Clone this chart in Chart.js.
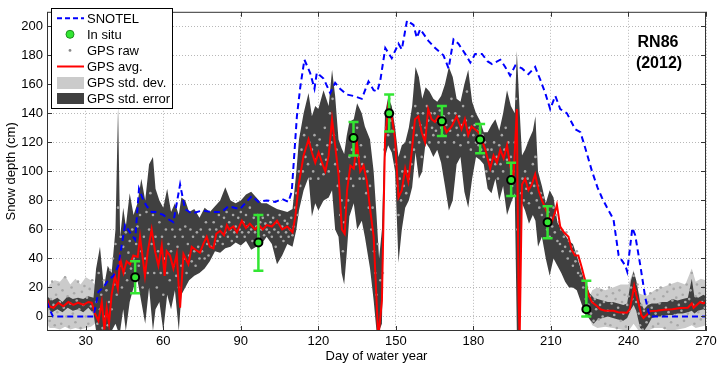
<!DOCTYPE html>
<html>
<head>
<meta charset="utf-8">
<script src="https://cdn.jsdelivr.net/npm/chart.js@4.4.1/dist/chart.umd.min.js"></script>
<style>
  html, body { margin: 0; padding: 0; background: #fff; }
</style>
</head>
<body>
<canvas id="chart" width="720" height="368"></canvas>
<script>
const FONT = "'Liberation Sans', Arial, Helvetica, sans-serif";

// axis ticks
const xTicks = [30, 60, 90, 120, 150, 180, 210, 240, 270];
const yTicks = [0, 20, 40, 60, 80, 100, 120, 140, 160, 180, 200];

// SNOTEL daily snow depth (cm)
const snotelDays = [15, 16, 17.3, 33, 34.9, 36.8, 38.7, 40.7, 42.6, 45.2, 47.1, 49.1, 50.6, 52.3, 53.6, 55.5, 57, 60, 62, 63.9, 66.5, 68.4, 71, 74.9, 78.8, 82.6, 85.2, 89.7, 94.2, 96.8, 100, 103.3, 105.9, 108.4, 109.7, 111.7, 113, 114.6, 116.8, 118.5, 119.4, 122, 124.6, 126.5, 128.4, 131, 133.6, 136.8, 139.4, 141.4, 142.8, 144, 145.9, 148.4, 151, 152.3, 154.3, 156.8, 158.1, 159.4, 162.6, 165.2, 168.4, 170.4, 172.3, 174.2, 176.8, 178.8, 180.7, 183.3, 185.4, 187.2, 190.4, 192.3, 194.2, 196.2, 198.8, 201.3, 203.9, 205.9, 207.8, 209.7, 211.7, 213.6, 216.2, 219.4, 221.4, 223.3, 225.9, 228, 229.7, 232.3, 234.2, 236.2, 238.8, 239.5, 241.5, 242.6, 244.6, 246.5, 247.8, 248.5, 270];
const snotelDepth = [10, 5, 0, 0, 17, 20, 25, 28, 35, 63, 58, 53, 88, 80, 76, 72, 72, 70, 67, 65, 91, 74, 71, 73, 72, 72, 76, 74, 83, 79, 80, 79, 81, 79, 86, 138, 158, 177, 168, 157, 168, 164, 154, 161, 157, 153, 152, 150, 162, 156, 155, 163, 185, 178, 188, 184, 204, 201, 192, 198, 190, 185, 180, 171, 191, 188, 181, 175, 181, 181, 176, 174, 177, 172, 166, 173, 171, 167, 172, 163, 154, 143, 152, 143, 140, 129, 127, 116, 100, 89, 82, 73, 67, 42, 35, 31, 61, 56, 35, 13, 3, 0, 0];

// in situ measurements with error range
const insituDays = [49.1, 96.8, 133.6, 147.4, 167.8, 182.6, 194.6, 208.7, 223.7];
const insituDepth = [27, 51, 123, 140, 134.5, 122, 94, 65, 5];
const insituLow = [16, 31.5, 111, 127.5, 124.4, 112.5, 83, 54, 0];
const insituHigh = [38, 70, 134, 153, 145, 132.7, 106, 76, 24.6];

// GPS daily average
const avgDays = [15, 16, 17.5, 19.4, 21.3, 23.3, 25.2, 27.1, 29.1, 31, 32.3, 33.6, 34.9, 36.2, 37.2, 38.1, 39, 40, 41.3, 42.4, 43.3, 44.6, 45.8, 47.1, 48.4, 50.1, 51, 52.9, 54, 55.5, 56.8, 58.1, 59.4, 60.5, 61.3, 62.6, 63.9, 65.2, 66.5, 67.8, 69.7, 71, 72.5, 74.2, 75.5, 76.8, 78, 79.4, 80.5, 82, 83.5, 84.6, 85.5, 87.1, 88.5, 90.4, 92, 93.5, 95.5, 97, 98.5, 100, 102, 104, 106, 108, 110, 111.1, 112.4, 114.3, 116.2, 117.5, 118.8, 120.1, 121.4, 122.7, 124, 125.3, 126.5, 127.8, 129.1, 130.2, 131.1, 132.4, 133.7, 134.9, 136.2, 137.5, 138.8, 140.1, 141.4, 142.3, 143.2, 144.6, 145.8, 147.1, 148.4, 149.7, 151, 152.3, 153.6, 154.8, 156.1, 157.4, 158.7, 160, 161.3, 162.5, 163.8, 165.1, 166.4, 167.7, 169.6, 171.6, 173.5, 175.4, 176.7, 178, 179.3, 180.6, 181.9, 183.2, 184.6, 186.5, 187.8, 189.1, 190.4, 191.7, 193, 194.2, 195.5, 196.8, 197.5, 197.9, 198.8, 200, 201.3, 202.6, 203.9, 205.2, 206.5, 207.8, 209, 210.3, 211.6, 212.3, 213.6, 215, 216.8, 218, 219.3, 220.6, 221.9, 223.2, 224.5, 225.8, 227.9, 229.1, 231, 234.2, 236, 239.4, 240.5, 241.3, 242.2, 243, 243.9, 245, 245.8, 247, 248.4, 251, 253.6, 257, 260, 263, 264.5, 265.2, 267.7, 269, 270];
const avgDepth = [12, 7, 6, 9.5, 7, 10, 8, 9.5, 8, 10, 9.5, 2, -3, 10, -9, 6, -5, 15, 28, 19, 40, 30, 38, 36, 42, 41, 55, 28, 45, 60, 45, 35, 49, 28, 45, 42, 33, 43, 6, 43, 36, 48, 46, 44, 50, 55, 48, 47, 57, 59, 56, 63, 60, 62, 58, 66, 61, 64, 60, 63, 60, 63, 62, 66, 60, 62, 58, 69, 91, 111, 122, 113, 106, 113, 106, 100, 111, 136, 118, 98, 60, 57, 87, 104, 102, 120, 100, 104, 93, 73, 55, 20, -15, 11, 122, 145, 138, 122, 82, 87, 102, 93, 113, 136, 138, 127, 120, 143, 136, 134, 138, 136, 127, 131, 138, 129, 136, 125, 131, 129, 127, 122, 115, 102, 111, 106, 115, 109, 118, 104, 95, 143, 11, -15, 91, 95, 87, 91, 98, 87, 80, 75, 69, 65, 72, 77, 62, 58, 55, 46, 42, 42, 34, 25, 15, 10, 7, 5, 4, 4, 3, 2.6, 5, 12, 21, 15, 9, 1, -1, 1, 3.7, 4, 4.7, 5, 5.8, 6, 9, 6, 10, 9, 10];

// GPS std. error band
const errDays = [15, 17, 19, 21, 23, 25, 27, 29, 31, 33, 34, 35.5, 37, 38.5, 40, 41.5, 42.5, 43.3, 44.5, 45.5, 47, 48.5, 50, 51.5, 53, 54.5, 56, 57, 58.5, 60, 61.5, 63, 64.5, 66, 67, 68.5, 70, 72, 74, 76, 78, 80, 82, 84, 86, 88, 90, 92, 94, 96, 98, 100, 102, 104, 106, 108, 110, 111.5, 112.5, 114.3, 116.2, 117.5, 118.8, 120, 122, 124, 125.3, 126.5, 127.8, 129, 130, 131, 132, 133.7, 135, 136.8, 138, 140, 141.4, 142.5, 143.5, 144.6, 145.8, 147, 148.4, 149.7, 151, 152.3, 153.6, 155, 156.3, 157.6, 158.9, 160.2, 161.5, 163, 164.5, 166, 167.5, 169, 170.5, 172, 173.5, 175, 176.5, 178, 179.5, 181, 182.5, 184, 185.5, 187, 188.5, 190, 191.5, 193, 194.5, 196, 196.8, 197.8, 198.8, 200, 201.5, 203, 204, 205, 206.5, 208, 209.5, 211, 212.5, 214, 215.5, 217, 218.5, 220, 222, 223.5, 225, 226.5, 228, 230, 232, 234, 236, 238, 239.5, 241, 242, 243, 244.5, 246, 247.5, 249, 251, 253, 255, 257, 259, 261, 263, 264.5, 265.5, 267, 269, 270];
const errUpper = [14, 11, 13, 10, 14, 12, 13, 12, 14, 13, 33, 48, 20, 35, 30, 60, 145, 55, 75, 62, 85, 70, 78, 95, 80, 105, 110, 88, 80, 75, 88, 72, 78, 70, 82, 80, 72, 74, 68, 75, 72, 76, 80, 89, 80, 78, 80, 84, 86, 82, 78, 78, 76, 74, 73, 72, 74, 100, 122, 140, 154, 138, 145, 143, 156, 145, 170, 152, 122, 116, 112, 125, 134, 136, 147, 140, 131, 122, 100, 70, 40, 60, 140, 151, 145, 130, 110, 118, 120, 130, 145, 172, 165, 150, 158, 155, 150, 148, 152, 160, 172, 165, 150, 148, 160, 170, 148, 140, 135, 127, 127, 132, 136, 128, 140, 156, 145, 140, 183, 145, 111, 115, 122, 128, 138, 100, 90, 78, 87, 82, 65, 60, 56, 52, 50, 42, 30, 22, 16, 13, 12, 11, 10, 10, 9, 8, 9, 25, 31, 25, 10, 5, 8, 9, 9, 10, 10, 12, 11, 12, 13, 26, 14, 13, 15, 14];
const errLower = [6, 3, 5, 3, 6, 4, 5, 3, 6, 2, -10, -10, -10, -10, -10, -5, -10, -10, 5, -10, 10, 20, 25, 10, -5, 20, -10, 5, 10, -10, 15, 5, 18, -10, 15, 20, 25, 28, 30, 33, 38, 45, 44, 47, 48, 51, 49, 52, 46, 48, 50, 55, 50, 36, 42, 50, 48, 60, 73, 87, 96, 69, 78, 73, 80, 82, 87, 60, 55, 30, 22, 44, 69, 78, 60, 66, 55, 33, 11, -10, -10, -5, 110, 118, 113, 100, 37, 60, 75, 80, 89, 113, 95, 100, 120, 116, 110, 115, 106, 90, 73, 80, 105, 110, 86, 75, 95, 110, 108, 105, 88, 85, 95, 80, 90, 70, 78, 85, -10, -10, 78, 73, 64, 70, 66, 48, 55, 40, 28, 40, 35, 30, 24, 20, 20, 18, 8, 2, -2, -5, -2, -1, 0, -1, -2, -3, -1, 5, 8, 4, -8, -10, -6, -1, 0, 0, 1, 1, 2, 2, 3, 4, 2, 4, 5, 4];

// GPS std. dev. band (visible before and after snow cover)
const devEarlyDays = [15, 16, 18, 20, 22, 24, 26, 28, 30, 32, 33.5, 34.5];
const devEarlyUpper = [18, 22, 25, 24, 28, 22, 26, 22, 27, 25, 22, 12];
const devEarlyLower = [-5, -8, -8, -9, -7, -9, -8, -9, -8, -7, -5, -2];
const devLateDays = [225, 226, 228, 231, 234, 237, 240, 242, 244, 247, 250, 253, 256, 259, 262, 264.5, 266, 268, 270];
const devLateUpper = [14, 18, 20, 18, 20, 22, 22, 32, 16, 14, 18, 20, 22, 24, 22, 33, 24, 26, 25];
const devLateLower = [-2, -6, -8, -7, -8, -9, -10, -5, -10, -10, -8, -8, -10, -9, -8, -6, -8, -7, -6];

// GPS raw retrievals [day, depth]
const gpsRaw = [
[15,20],[15.5,5],[16,-3],[16.5,12],[17,24],[17.5,8],[18,-6],[18.5,15],[19,3],[19.5,22],
[20,10],[20.5,-5],[21,18],[21.5,6],[22,27],[22.5,0],[23,14],[23.5,-7],[24,9],[24.5,20],
[25,2],[25.5,16],[26,-4],[26.5,11],[27,24],[27.5,5],[28,-8],[28.5,17],[29,8],[29.5,21],
[30,0],[30.5,13],[31,-5],[31.5,19],[32,7],[32.5,25],[33,3],
[34,10],[34.5,-5],[35,30],[35.5,5],[36,15],[36.5,-8],[37,25],[37.5,0],[38,18],[38.5,-6],[39,10],[39.5,32],
[40,5],[40.5,40],[41,22],[41.5,50],[42,15],[42.5,75],[43,35],[43.5,55],[44,20],[44.5,48],[45,30],[45.5,58],[46,25],[46.5,44],[47,52],[47.5,33],[48,60],[48.5,40],[49,30],[49.5,50],
[50,62],[50.5,35],[51,70],[51.5,45],[52,20],[52.5,55],[53,40],[53.5,72],[54,30],[54.5,60],[55,85],[55.5,50],[56,70],[56.5,30],[57,55],[57.5,20],[58,45],[58.5,65],[59,30],[59.5,55],
[60,15],[60.5,40],[61,60],[61.5,30],[62,50],[62.5,25],[63,45],[63.5,60],[64,35],[64.5,55],[65,28],[65.5,48],[66,20],[66.5,60],[67,35],[67.5,55],[68,40],[68.5,62],[69,30],[69.5,50],
[70,42],[70.5,60],[71,38],[71.5,55],[72,45],[72.5,35],[73,58],[73.5,48],[74,40],[74.5,60],[75,45],[75.5,55],[76,40],[76.5,65],[77,50],[77.5,42],[78,60],[78.5,48],[79,55],[79.5,65],
[80,50],[80.5,60],[81,52],[81.5,70],[82,55],[82.5,62],[83,50],[83.5,68],[84,58],[84.5,72],[85,55],[85.5,65],[86,60],[86.5,52],[87,70],[87.5,58],[88,62],[88.5,55],[89,68],[89.5,60],
[90,72],[90.5,58],[91,65],[91.5,55],[92,70],[92.5,62],[93,58],[93.5,75],[94,60],[94.5,52],[95,68],[95.5,58],[96,62],[96.5,70],[97,55],[97.5,65],[98,60],[98.5,68],[99,56],[99.5,64],
[100,60],[100.5,70],[101,58],[101.5,65],[102,55],[102.5,68],[103,60],[103.5,48],[104,65],[104.5,58],[105,70],[105.5,55],[106,62],[106.5,52],[107,66],[107.5,58],[108,64],[108.5,55],[109,60],[109.5,68],
[110,56],[110.5,62],[111,75],[111.5,85],[112,70],[112.5,100],[113,90],[113.5,115],[114,100],[114.5,125],[115,110],[115.5,130],[116,105],[116.5,120],[117,95],[117.5,115],[118,100],[118.5,125],[119,108],[119.5,118],
[120,95],[120.5,122],[121,105],[121.5,112],[122,98],[122.5,130],[123,108],[123.5,118],[124,100],[124.5,140],[125,120],[125.5,150],[126,125],[126.5,105],[127,115],[127.5,90],[128,100],[128.5,70],[129,80],[129.5,45],
[130,65],[130.5,75],[131,95],[131.5,80],[132,110],[132.5,95],[133,115],[133.5,90],[134,125],[134.5,105],[135,130],[135.5,110],[136,95],[136.5,118],[137,105],[137.5,95],[138,110],[138.5,85],[139,100],[139.5,75],
[140,90],[140.5,60],[141,75],[141.5,45],[142,30],[142.5,15],[143,50],[144,25],[145,30],[145.5,115],[146,130],[146.5,140],[147,125],[147.5,150],[148,135],[148.5,128],[149,140],[149.5,115],
[150,105],[150.5,90],[151,70],[151.5,95],[152,80],[152.5,100],[153,90],[153.5,110],[154,85],[154.5,100],[155,95],[155.5,120],[156,105],[156.5,130],[157,115],[157.5,145],[158,125],[158.5,140],[159,120],[159.5,132],
[160,110],[160.5,140],[161,125],[161.5,130],[162,145],[162.5,135],[163,120],[163.5,140],[164,130],[164.5,125],[165,140],[165.5,128],[166,135],[166.5,120],[167,142],[167.5,130],[168,125],[168.5,138],[169,120],[169.5,132],
[170,110],[170.5,140],[171,128],[171.5,150],[172,135],[172.5,120],[173,140],[173.5,130],[174,125],[174.5,138],[175,118],[175.5,132],[176,145],[176.5,125],[177,135],[177.5,155],[178,120],[178.5,130],[179,115],[179.5,138],
[180,125],[180.5,132],[181,120],[181.5,128],[182,118],[182.5,130],[183,115],[183.5,125],[184,110],[184.5,120],[185,100],[185.5,115],[186,95],[186.5,108],[187,115],[187.5,100],[188,120],[188.5,105],[189,110],[189.5,95],
[190,118],[190.5,105],[191,125],[191.5,100],[192,115],[192.5,130],[193,108],[193.5,120],[194,95],[194.5,110],[195,90],[195.5,100],[196,120],[196.5,150],[197,60],[198,20],[198.5,85],[199,95],[199.5,80],
[200,100],[200.5,88],[201,95],[201.5,78],[202,92],[202.5,85],[203,105],[203.5,90],[204,110],[204.5,80],[205,90],[205.5,75],[206,85],[206.5,70],[207,82],[207.5,65],[208,75],[208.5,60],[209,72],[209.5,55],
[210,68],[210.5,62],[211,75],[211.5,58],[212,70],[212.5,52],[213,65],[213.5,50],[214,60],[214.5,45],[215,55],[215.5,48],[216,58],[216.5,40],[217,52],[217.5,45],[218,48],[218.5,35],[219,44],[219.5,38],
[220,45],[220.5,30],[221,38],[221.5,28],[222,32],[222.5,20],[223,26],[223.5,12],[224,20],[224.5,8],[225,14],[225.5,2],[226,10],[226.5,-3],[227,12],[227.5,5],[228,15],[228.5,-2],[229,8],[229.5,18],
[230,0],[230.5,10],[231,-5],[231.5,14],[232,4],[232.5,20],[233,-6],[233.5,9],[234,16],[234.5,1],[235,12],[235.5,-8],[236,6],[236.5,18],[237,-3],[237.5,10],[238,2],[238.5,15],[239,-7],[239.5,8],
[240,14],[240.5,4],[241,20],[241.5,12],[242,28],[242.5,18],[243,10],[243.5,22],[244,2],[244.5,-6],[245,8],[245.5,-9],[246,4],[246.5,15],[247,-4],[247.5,10],[248,0],[248.5,16],[249,6],[249.5,-7],
[250,12],[250.5,2],[251,18],[251.5,-5],[252,9],[252.5,20],[253,0],[253.5,14],[254,-8],[254.5,6],[255,17],[255.5,3],[256,22],[256.5,-4],[257,11],[257.5,19],[258,1],[258.5,13],[259,-6],[259.5,8],
[260,20],[260.5,4],[261,15],[261.5,-3],[262,10],[262.5,22],[263,2],[263.5,12],[264,18],[264.5,30],[265,8],[265.5,-5],[266,14],[266.5,22],[267,3],[267.5,16],[268,-2],[268.5,10],[269,20],[269.5,6],[270,12]
];

const BLUE = '#0000ff';
const RED = '#ff0000';
const GREEN = '#33e633';
const DARK = '#404040';
const LIGHT = '#cbcbcb';
const RAW = '#a8a8a8';

const pts = (xs, ys) => xs.map((x, i) => ({ x: x, y: ys[i] }));

// vertical error bars, one segment per in situ sample
const errorBars = [];
insituDays.forEach((d, i) => {
  errorBars.push({ x: d, y: insituLow[i] }, { x: d, y: insituHigh[i] }, { x: d, y: null });
});

// frame with inward ticks, plus the station label
const framePlugin = {
  id: 'frame',
  afterDraw(chart) {
    const { ctx, chartArea: a, scales } = chart;
    ctx.save();
    ctx.strokeStyle = '#333';
    ctx.lineWidth = 1;
    ctx.strokeRect(a.left + 0.5, a.top + 0.5, a.right - a.left - 1, a.bottom - a.top - 1);
    ctx.beginPath();
    xTicks.forEach(v => {
      const px = Math.round(scales.x.getPixelForValue(v)) + 0.5;
      ctx.moveTo(px, a.bottom); ctx.lineTo(px, a.bottom - 5);
      ctx.moveTo(px, a.top); ctx.lineTo(px, a.top + 5);
    });
    yTicks.forEach(v => {
      const py = Math.round(scales.y.getPixelForValue(v)) + 0.5;
      ctx.moveTo(a.left, py); ctx.lineTo(a.left + 5, py);
      ctx.moveTo(a.right, py); ctx.lineTo(a.right - 5, py);
    });
    ctx.stroke();

    ctx.fillStyle = '#000';
    ctx.font = 'bold 16px ' + FONT;
    ctx.textAlign = 'center';
    ctx.textBaseline = 'alphabetic';
    ctx.fillText('RN86', 658, 47);
    ctx.fillText('(2012)', 659, 68);
    ctx.restore();
  }
};

// MATLAB-style boxed legend in the upper left corner
const legendPlugin = {
  id: 'boxLegend',
  afterDraw(chart) {
    const ctx = chart.ctx;
    const labels = ['SNOTEL', 'In situ', 'GPS raw', 'GPS avg.', 'GPS std. dev.', 'GPS std. error'];
    ctx.save();
    ctx.fillStyle = '#fff';
    ctx.fillRect(51.5, 8.5, 121, 100);
    ctx.strokeStyle = '#000';
    ctx.lineWidth = 1;
    ctx.strokeRect(51.5, 8.5, 121, 100);
    const base = i => 22.7 + i * 16.1;
    const mid = i => base(i) - 4.5;

    ctx.strokeStyle = BLUE; ctx.lineWidth = 2; ctx.setLineDash([5, 3]);
    ctx.beginPath(); ctx.moveTo(57, mid(0)); ctx.lineTo(84, mid(0)); ctx.stroke();
    ctx.setLineDash([]);

    ctx.fillStyle = GREEN; ctx.strokeStyle = '#1f8f1f'; ctx.lineWidth = 1;
    ctx.beginPath(); ctx.arc(70, mid(1), 4, 0, Math.PI * 2); ctx.fill(); ctx.stroke();

    ctx.fillStyle = '#888';
    ctx.beginPath(); ctx.arc(70, mid(2), 1.4, 0, Math.PI * 2); ctx.fill();

    ctx.strokeStyle = RED; ctx.lineWidth = 2;
    ctx.beginPath(); ctx.moveTo(57, mid(3)); ctx.lineTo(84, mid(3)); ctx.stroke();

    ctx.fillStyle = LIGHT; ctx.fillRect(57, 77, 27, 12);
    ctx.fillStyle = DARK; ctx.fillRect(57, 93, 27, 11);

    ctx.fillStyle = '#000';
    ctx.font = '13px ' + FONT;
    ctx.textAlign = 'left';
    ctx.textBaseline = 'alphabetic';
    labels.forEach((t, i) => ctx.fillText(t, 87, base(i)));
    ctx.restore();
  }
};

const tickFont = { family: FONT, size: 13 };

new Chart(document.getElementById('chart'), {
  type: 'line',
  data: {
    datasets: [
      { label: 'In situ', data: pts(insituDays, insituDepth), showLine: false, order: 0,
        pointRadius: 4, pointBackgroundColor: GREEN, pointBorderColor: '#000', pointBorderWidth: 2 },
      { label: 'error', data: errorBars, borderColor: GREEN, borderWidth: 2.5, order: 1, spanGaps: false,
        pointStyle: 'line', pointRadius: 5, pointBorderColor: GREEN, pointBorderWidth: 2.5 },
      { label: 'SNOTEL', data: pts(snotelDays, snotelDepth), borderColor: BLUE, borderWidth: 2,
        borderDash: [6, 4], order: 2, clip: 0 },
      { label: 'GPS avg.', data: pts(avgDays, avgDepth), borderColor: RED, borderWidth: 2, order: 3, clip: 0 },
      { label: 'GPS raw', data: gpsRaw.map(p => ({ x: p[0], y: p[1] })), showLine: false, order: 4, clip: 0,
        pointRadius: 1.3, pointBackgroundColor: RAW, pointBorderWidth: 0 },
      { label: 'GPS std. error', data: pts(errDays, errUpper), borderWidth: 0, fill: '+1',
        backgroundColor: DARK, order: 5, clip: 0 },
      { label: 'err low', data: pts(errDays, errLower), borderWidth: 0, order: 6, clip: 0 },
      { label: 'GPS std. dev.', data: pts(devEarlyDays, devEarlyUpper), borderWidth: 0, fill: '+1',
        backgroundColor: LIGHT, order: 7, clip: 0 },
      { label: 'dev low', data: pts(devEarlyDays, devEarlyLower), borderWidth: 0, order: 8, clip: 0 },
      { label: 'GPS std. dev. late', data: pts(devLateDays, devLateUpper), borderWidth: 0, fill: '+1',
        backgroundColor: LIGHT, order: 9, clip: 0 },
      { label: 'dev low late', data: pts(devLateDays, devLateLower), borderWidth: 0, order: 10, clip: 0 }
    ]
  },
  options: {
    responsive: false,
    devicePixelRatio: 1,
    animation: false,
    events: [],
    layout: { padding: { top: 4, right: 14, left: 0, bottom: 0 } },
    elements: { line: { tension: 0 }, point: { radius: 0 } },
    plugins: { legend: { display: false }, tooltip: { enabled: false } },
    scales: {
      x: {
        type: 'linear', min: 15, max: 270,
        afterBuildTicks: s => { s.ticks = xTicks.map(v => ({ value: v })); },
        afterFit: s => { s.height = 37; },
        grid: { color: '#b8b8b8', lineWidth: 1, drawTicks: false },
        border: { display: false, dash: [1, 2] },
        ticks: { color: '#000', font: tickFont, padding: 3, maxRotation: 0, autoSkip: false,
          callback: v => String(v) },
        title: { display: true, text: 'Day of water year', color: '#000', font: tickFont,
          padding: { top: 0, bottom: 4 } }
      },
      y: {
        type: 'linear', min: -10, max: 210,
        afterBuildTicks: s => { s.ticks = yTicks.map(v => ({ value: v })); },
        afterFit: s => { s.width = 47; },
        grid: { color: '#b8b8b8', lineWidth: 1, drawTicks: false },
        border: { display: false, dash: [1, 2] },
        ticks: { color: '#000', font: tickFont, padding: 4, autoSkip: false,
          callback: v => String(v) },
        title: { display: true, text: 'Snow depth (cm)', color: '#000', font: tickFont,
          padding: { top: 4, bottom: 0 } }
      }
    }
  },
  plugins: [framePlugin, legendPlugin]
});
</script>
</body>
</html>
